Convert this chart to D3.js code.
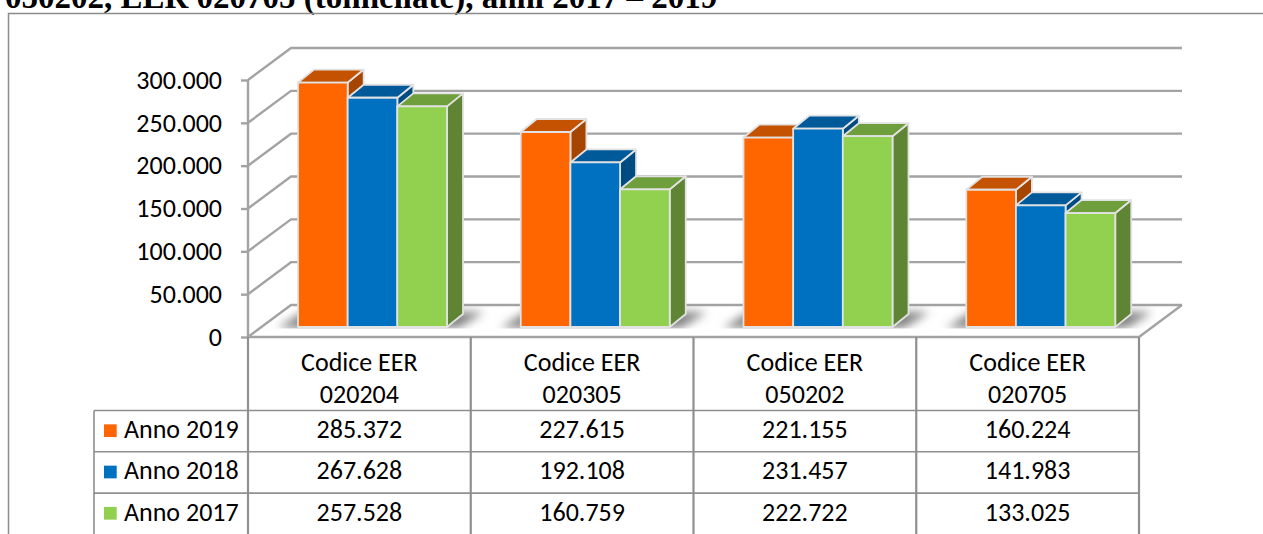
<!DOCTYPE html>
<html>
<head>
<meta charset="utf-8">
<script src="https://cdn.jsdelivr.net/npm/d3@7"></script>
<style>
html, body { margin: 0; padding: 0; background: #fff; overflow: hidden; }
svg { display: block; }
</style>
</head>
<body>
<svg id="chart" width="1263" height="534"></svg>
<script>
const categories = ['020204', '020305', '050202', '020705']
const seriesNames = ['Anno 2019', 'Anno 2018', 'Anno 2017']
const values2019 = [285372, 227615, 221155, 160224]
const values2018 = [267628, 192108, 231457, 141983]
const values2017 = [257528, 160759, 222722, 133025]
const yTicks = [0, 50000, 100000, 150000, 200000, 250000, 300000]
const titleText = '050202, EER 020705 (tonnellate), anni 2017 – 2019'

const seriesValues = [values2019, values2018, values2017]
const frontColors = ['#ff6600', '#0070c0', '#92d050']
const topColors = ['#c55200', '#005a9a', '#6f9e3c']
const sideColors = ['#a64500', '#004c82', '#5f8433']

const gridColor = '#a3a3a3', tableColor = '#8f8f8f'
const font = 'Carlito, Lato, Open Sans'
const plot = { left: 248, right: 1139, bottom: 337, top: 80 }
const wall = { dx: 43, dy: -32 } // back wall offset of the 3d box
const depth = { dx: 16, dy: -13 }
const barLift = -10
const rowH = 41.3, headerBottom = 410.5

const svg = d3.select('#chart')
const fmt = d => d3.format(',')(d).replace(/,/g, '.')

// title cut off by the top of the page
svg.append('text')
    .attr('x', 5).attr('y', 8)
    .attr('font-family', 'Liberation Serif')
    .attr('font-weight', 'bold')
    .attr('font-size', 33)
    .text(titleText)

// chart frame, only left and top are in view
svg.append('path')
    .attr('d', 'M8.5 534V13.5H1263')
    .attr('fill', 'none')
    .attr('stroke', '#8c8c8c')
    .attr('stroke-width', 1.5)

const x = d3.scaleBand().domain(categories).range([plot.left, plot.right])
const y = d3.scaleLinear().domain([0, 300000]).range([plot.bottom, plot.top])
const inner = d3.scaleBand().domain(seriesNames).range([50, 199])

// gridlines, left wall and floor
const grid = svg.append('g')
    .attr('fill', 'none')
    .attr('stroke', gridColor)
    .attr('stroke-width', 2.4)
grid.selectAll('path')
    .data(yTicks)
    .join('path')
    .attr('d', d => `M${plot.left} ${y(d)}L${plot.left + wall.dx} ${y(d) + wall.dy}H${plot.right + wall.dx}`)
grid.append('path')
    .attr('d', `M${plot.left} ${plot.top}V${plot.bottom}H${plot.right}L${plot.right + wall.dx} ${plot.bottom + wall.dy}`)

// y axis
const yAxis = svg.append('g')
    .attr('transform', `translate(${plot.left},0)`)
    .call(d3.axisLeft(y)
        .tickValues(yTicks)
        .tickSize(7)
        .tickPadding(19)
        .tickFormat(fmt))
yAxis.select('.domain').remove()
yAxis.selectAll('line').attr('stroke', gridColor).attr('stroke-width', 2.4)
yAxis.selectAll('text')
    .attr('font-family', font)
    .attr('font-size', 26)
    .attr('fill', '#000')

// soft shadow on the floor
const defs = svg.append('defs')
defs.append('filter').attr('id', 'soft')
    .attr('x', '-20%').attr('y', '-50%').attr('width', '140%').attr('height', '200%')
    .append('feGaussianBlur').attr('stdDeviation', 5)
defs.append('clipPath').attr('id', 'floor-clip')
    .append('rect').attr('x', 0).attr('y', 290).attr('width', 1263).attr('height', 38.5)

const groups = svg.selectAll('.bar-group')
    .data(categories)
    .join('g')
    .attr('class', 'bar-group')
    .attr('transform', d => `translate(${x(d)},0)`)

const barW = inner.bandwidth()
groups.append('g')
    .attr('clip-path', 'url(#floor-clip)')
    .append('path')
    .attr('d', `M30 ${plot.bottom - 9}L55 ${plot.bottom - 25}H236L210 ${plot.bottom - 9}Z`)
    .attr('fill', '#808080')
    .attr('filter', 'url(#soft)')

seriesNames.forEach((name, s) => {
    const bx = inner(name)
    const topY = i => y(seriesValues[s][i]) + barLift
    const base = plot.bottom + barLift
    const cell = groups.append('g')
        .attr('stroke', '#e2e2e2')
        .attr('stroke-width', 1.8)
        .attr('stroke-linejoin', 'round')
    cell.append('path') // side
        .attr('d', (d, i) => `M${bx + barW} ${topY(i)}l${depth.dx} ${depth.dy}V${base + depth.dy}L${bx + barW} ${base}Z`)
        .attr('fill', sideColors[s])
    cell.append('path') // top
        .attr('d', (d, i) => `M${bx} ${topY(i)}l${depth.dx} ${depth.dy}h${barW}l${-depth.dx} ${-depth.dy}Z`)
        .attr('fill', topColors[s])
    cell.append('rect') // front
        .attr('x', bx)
        .attr('y', (d, i) => topY(i))
        .attr('width', barW)
        .attr('height', (d, i) => base - topY(i))
        .attr('fill', frontColors[s])
})

// data table below the chart
const table = svg.append('g')
    .attr('stroke', tableColor)
    .attr('fill', 'none')
const colEdges = [...categories.map(d => x(d)), plot.right]
table.selectAll('.col')
    .data(colEdges)
    .join('line')
    .attr('class', 'col')
    .attr('stroke-width', 2.2)
    .attr('x1', d => d).attr('x2', d => d)
    .attr('y1', plot.bottom).attr('y2', 534)
const rowEdges = d3.range(3).map(i => headerBottom + i * rowH)
table.selectAll('.row')
    .data(rowEdges)
    .join('line')
    .attr('class', 'row')
    .attr('stroke-width', 1.6)
    .attr('x1', 94).attr('x2', plot.right)
    .attr('y1', d => d).attr('y2', d => d)
table.append('line')
    .attr('stroke-width', 1.6)
    .attr('x1', 94).attr('x2', 94)
    .attr('y1', headerBottom).attr('y2', 534)

const headers = svg.selectAll('.header')
    .data(categories)
    .join('g')
    .attr('class', 'header')
    .attr('font-family', font)
    .attr('font-size', 26)
    .attr('text-anchor', 'middle')
    .attr('transform', d => `translate(${x(d) + x.bandwidth() / 2},0)`)
headers.append('text').attr('y', 371).text('Codice EER')
headers.append('text').attr('y', 403).text(d => d)

seriesNames.forEach((name, s) => {
    const rowMid = headerBottom + (s + 0.5) * rowH
    svg.append('rect')
        .attr('x', 104).attr('y', rowMid - 6.8)
        .attr('width', 12.7).attr('height', 12.7)
        .attr('fill', frontColors[s])
    svg.append('text')
        .attr('x', 124).attr('y', rowMid + 6.8)
        .attr('font-family', font).attr('font-size', 26)
        .text(name)
    svg.selectAll(`.v${s}`)
        .data(seriesValues[s])
        .join('text')
        .attr('class', `v${s}`)
        .attr('x', (d, i) => x(categories[i]) + x.bandwidth() / 2)
        .attr('y', rowMid + 6.8)
        .attr('text-anchor', 'middle')
        .attr('font-family', font).attr('font-size', 26)
        .text(fmt)
})
</script>
</body>
</html>
